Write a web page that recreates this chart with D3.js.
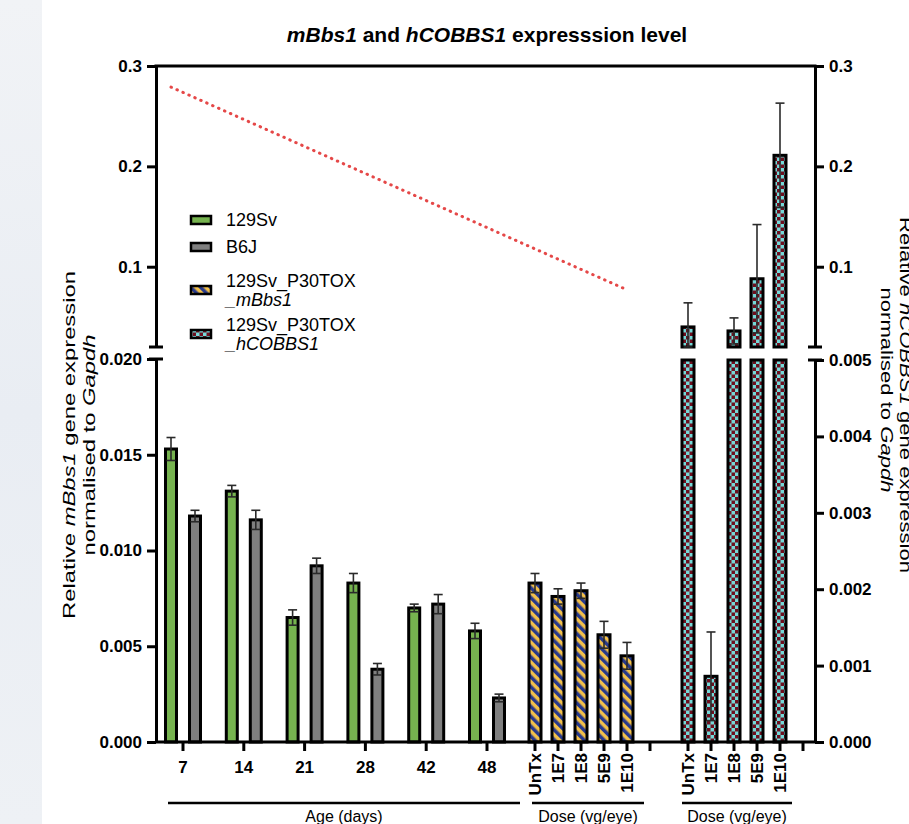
<!DOCTYPE html>
<html>
<head>
<meta charset="utf-8">
<script src="https://cdn.jsdelivr.net/npm/d3@7"></script>
<style>
  body { margin: 0; background: #fff; }
  svg { display: block; font-family: Arial, "Liberation Sans", sans-serif; }
</style>
</head>
<body>
<div id="chart"></div>
<script>
// data
const ages = ["7", "14", "21", "28", "42", "48"];
const sv129 = [0.0153, 0.0131, 0.0065, 0.0083, 0.0070, 0.0058];
const sv129Err = [0.0006, 0.0003, 0.0004, 0.0005, 0.0002, 0.0004];
const b6j = [0.0118, 0.0116, 0.0092, 0.0038, 0.0072, 0.0023];
const b6jErr = [0.0003, 0.0005, 0.0004, 0.0003, 0.0005, 0.0002];

const doses = ["UnTx", "1E7", "1E8", "5E9", "1E10"];
const toxMbbs1 = [0.0083, 0.0076, 0.0079, 0.0056, 0.0045];
const toxMbbs1Err = [0.0005, 0.0004, 0.0004, 0.0007, 0.0007];
const toxHcobbs1 = [0.040, 0.00086, 0.036, 0.088, 0.211];
const toxHcobbs1Err = [0.024, 0.00058, 0.013, 0.054, 0.052];

const leftLowTicks = [0, 0.005, 0.010, 0.015, 0.020];
const leftHighTicks = [0.1, 0.2, 0.3];
const rightLowTicks = [0, 0.001, 0.002, 0.003, 0.004, 0.005];
const rightHighTicks = [0.1, 0.2, 0.3];

// red dotted annotation line (start at 129Sv day 7, end at 1E10)
const trendStart = { cat: "7", v: 0.279 };
const trendEnd = { cat: "1E10", v: 0.077 };

const W = 909, H = 824;
const svg = d3.select("#chart").append("svg")
  .attr("width", W).attr("height", H);

// patterns
const defs = svg.append("defs");
const stripe = defs.append("pattern")
  .attr("id", "stripe").attr("patternUnits", "userSpaceOnUse")
  .attr("width", 7).attr("height", 7)
  .attr("patternTransform", "rotate(-45)");
stripe.append("rect").attr("width", 7).attr("height", 7).attr("fill", "#f2c04a");
stripe.append("rect").attr("width", 3.5).attr("height", 7).attr("fill", "#27398c");

const checker = defs.append("pattern")
  .attr("id", "checker").attr("patternUnits", "userSpaceOnUse")
  .attr("width", 7).attr("height", 7);
checker.append("rect").attr("width", 7).attr("height", 7).attr("fill", "#74d9d8");
checker.append("rect").attr("width", 3.5).attr("height", 3.5).attr("fill", "#6e0f1f");
checker.append("rect").attr("x", 3.5).attr("y", 3.5).attr("width", 3.5).attr("height", 3.5).attr("fill", "#6e0f1f");

const bgGrad = defs.append("linearGradient").attr("id", "bgGrad")
  .attr("x1", 0).attr("x2", 0).attr("y1", 0).attr("y2", 1);
bgGrad.append("stop").attr("offset", "0%").attr("stop-color", "#f1f3f6");
bgGrad.append("stop").attr("offset", "50%").attr("stop-color", "#e9edf3");
bgGrad.append("stop").attr("offset", "100%").attr("stop-color", "#eef1f5");

// faint background strip on the left edge
svg.append("rect").attr("x", 0).attr("y", 0).attr("width", 42).attr("height", H)
  .attr("fill", "url(#bgGrad)");

// scales
const xLeft = 156, xRight = 815;
const xAge = d3.scalePoint().domain(ages).range([183, 487]);
const xDoseM = d3.scalePoint().domain([...doses, "_"]).range([535, 650]);
const xDoseH = d3.scalePoint().domain([...doses, "_"]).range([688, 803]);

const yLow = d3.scaleLinear().domain([0, 0.02]).range([742, 359]);
const yHigh = d3.scaleLinear().domain([0.02, 0.3]).range([347, 66]);
const yRLow = d3.scaleLinear().domain([0, 0.005]).range([742, 360]);
const yRHigh = d3.scaleLinear().domain([0.02, 0.3]).range([347, 66]);

const barOff = 12;

// title
const title = svg.append("text")
  .attr("x", 487).attr("y", 42)
  .attr("text-anchor", "middle")
  .style("font-size", "21px").style("font-weight", "bold");
title.append("tspan").style("font-style", "italic").text("mBbs1");
title.append("tspan").text(" and ");
title.append("tspan").style("font-style", "italic").text("hCOBBS1");
title.append("tspan").text(" expresssion level");

// red dotted line
svg.append("line")
  .attr("x1", xAge(trendStart.cat) - barOff).attr("y1", yHigh(trendStart.v))
  .attr("x2", xDoseM(trendEnd.cat)).attr("y2", yHigh(trendEnd.v))
  .attr("stroke", "#e54848").attr("stroke-width", 3)
  .attr("stroke-dasharray", "0.5,6").attr("stroke-linecap", "round");

// helper: error bar
function errBar(g, x, yTop, yBot, cap) {
  g.append("line").attr("x1", x).attr("x2", x).attr("y1", yTop).attr("y2", yBot)
    .attr("stroke", "#2a2a2a").attr("stroke-width", 1.6);
  g.append("line").attr("x1", x - cap).attr("x2", x + cap).attr("y1", yTop).attr("y2", yTop)
    .attr("stroke", "#2a2a2a").attr("stroke-width", 1.6);
  g.append("line").attr("x1", x - cap).attr("x2", x + cap).attr("y1", yBot).attr("y2", yBot)
    .attr("stroke", "#2a2a2a").attr("stroke-width", 1.6);
}

// age bars
const gBars = svg.append("g");
const ageSeries = [
  { vals: sv129, errs: sv129Err, fill: "#76b34f", off: -barOff },
  { vals: b6j, errs: b6jErr, fill: "#7f7f7f", off: barOff }
];
ageSeries.forEach(s => {
  ages.forEach((a, i) => {
    const cx = xAge(a) + s.off;
    gBars.append("rect")
      .attr("x", cx - 5.5).attr("width", 11)
      .attr("y", yLow(s.vals[i])).attr("height", yLow(0) - yLow(s.vals[i]))
      .attr("fill", s.fill).attr("stroke", "#000").attr("stroke-width", 3);
    errBar(gBars, cx, yLow(s.vals[i] + s.errs[i]), yLow(s.vals[i] - s.errs[i]), 4.5);
  });
});

// mBbs1 dose bars
doses.forEach((d, i) => {
  const cx = xDoseM(d);
  gBars.append("rect")
    .attr("x", cx - 6).attr("width", 12)
    .attr("y", yLow(toxMbbs1[i])).attr("height", yLow(0) - yLow(toxMbbs1[i]))
    .attr("fill", "url(#stripe)").attr("stroke", "#000").attr("stroke-width", 3);
  errBar(gBars, cx, yLow(toxMbbs1[i] + toxMbbs1Err[i]), yLow(toxMbbs1[i] - toxMbbs1Err[i]), 4.5);
});

// hCOBBS1 dose bars (broken axis)
doses.forEach((d, i) => {
  const cx = xDoseH(d);
  const v = toxHcobbs1[i], e = toxHcobbs1Err[i];
  if (v <= 0.005) {
    gBars.append("rect")
      .attr("x", cx - 6).attr("width", 12)
      .attr("y", yRLow(v)).attr("height", yRLow(0) - yRLow(v))
      .attr("fill", "url(#checker)").attr("stroke", "#000").attr("stroke-width", 3);
    errBar(gBars, cx, yRLow(v + e), yRLow(Math.max(0, v - e)), 4.5);
  } else {
    gBars.append("rect")
      .attr("x", cx - 6).attr("width", 12)
      .attr("y", yRLow(0.005)).attr("height", yRLow(0) - yRLow(0.005))
      .attr("fill", "url(#checker)").attr("stroke", "#000").attr("stroke-width", 3);
    gBars.append("rect")
      .attr("x", cx - 6).attr("width", 12)
      .attr("y", yRHigh(v)).attr("height", yRHigh(0.02) - yRHigh(v))
      .attr("fill", "url(#checker)").attr("stroke", "#000").attr("stroke-width", 3);
    // open the ends at the axis break
    gBars.append("rect")
      .attr("x", cx - 9).attr("width", 18)
      .attr("y", yRHigh(0.02) + 2).attr("height", yRLow(0.005) - yRHigh(0.02) - 4)
      .attr("fill", "#fff");
    errBar(gBars, cx, yRHigh(v + e), yRHigh(Math.max(0.02, v - e)), 4.5);
  }
});

// axes
function styleAxis(g) {
  g.select(".domain").attr("stroke-width", 3);
  g.selectAll(".tick line").attr("stroke-width", 3);
  g.selectAll(".tick text")
    .style("font-size", "17px").style("font-weight", "bold")
    .style("font-family", "Arial, 'Liberation Sans', sans-serif").attr("fill", "#000");
}
const fmt3 = d3.format(".3f"), fmt1 = d3.format(".1f");

svg.append("g").attr("transform", `translate(${xLeft},0)`)
  .call(d3.axisLeft(yLow).tickValues(leftLowTicks).tickFormat(fmt3).tickSize(9).tickSizeOuter(0).tickPadding(5))
  .call(styleAxis);
svg.append("g").attr("transform", `translate(${xLeft},0)`)
  .call(d3.axisLeft(yHigh).tickValues(leftHighTicks).tickFormat(fmt1).tickSize(9).tickSizeOuter(0).tickPadding(5))
  .call(styleAxis);
svg.append("g").attr("transform", `translate(${xRight},0)`)
  .call(d3.axisRight(yRLow).tickValues(rightLowTicks).tickFormat(fmt3).tickSize(9).tickSizeOuter(0).tickPadding(5))
  .call(styleAxis);
svg.append("g").attr("transform", `translate(${xRight},0)`)
  .call(d3.axisRight(yRHigh).tickValues(rightHighTicks).tickFormat(fmt1).tickSize(9).tickSizeOuter(0).tickPadding(5))
  .call(styleAxis);

// break caps and top frame
const capG = svg.append("g").attr("stroke", "#000").attr("stroke-width", 3);
[[xLeft, yLow(0.02)], [xRight, yRLow(0.005)]].forEach(([x, yTopLow]) => {
  capG.append("line").attr("x1", x - 7).attr("x2", x + 7).attr("y1", yHigh(0.02)).attr("y2", yHigh(0.02));
  capG.append("line").attr("x1", x - 7).attr("x2", x + 7).attr("y1", yTopLow).attr("y2", yTopLow);
});
capG.append("line").attr("x1", xLeft - 1.5).attr("x2", xRight + 1.5)
  .attr("y1", yHigh(0.3)).attr("y2", yHigh(0.3));

// x axis
const xG = svg.append("g").attr("stroke", "#000").attr("stroke-width", 3);
xG.append("line").attr("x1", xLeft).attr("x2", xRight).attr("y1", yLow(0)).attr("y2", yLow(0));
const tickXs = [...ages.map(xAge), ...xDoseM.domain().map(xDoseM), ...xDoseH.domain().map(xDoseH)];
tickXs.forEach(x => {
  xG.append("line").attr("x1", x).attr("x2", x).attr("y1", yLow(0)).attr("y2", yLow(0) + 9);
});

const labG = svg.append("g").style("font-size", "17px").style("font-weight", "bold");
ages.forEach(a => {
  labG.append("text").attr("x", xAge(a)).attr("y", 773).attr("text-anchor", "middle").text(a);
});
[xDoseM, xDoseH].forEach(sc => {
  doses.forEach(d => {
    labG.append("text")
      .attr("transform", `translate(${sc(d)},753) rotate(-90)`)
      .attr("text-anchor", "end").attr("dy", "0.35em").text(d);
  });
});

// group lines
const groups = [
  { label: "Age (days)", x1: 168, x2: 520 },
  { label: "Dose (vg/eye)", x1: 532, x2: 644 },
  { label: "Dose (vg/eye)", x1: 682, x2: 792 }
];
groups.forEach(g => {
  svg.append("line").attr("x1", g.x1).attr("x2", g.x2).attr("y1", 803).attr("y2", 803)
    .attr("stroke", "#000").attr("stroke-width", 2.5);
  svg.append("text").attr("x", (g.x1 + g.x2) / 2).attr("y", 822)
    .attr("text-anchor", "middle").style("font-size", "16px").text(g.label);
});

// y axis titles (stretched along the text, as in the figure)
function axisTitle(tf, parts) {
  const t = svg.append("text").attr("transform", tf)
    .attr("text-anchor", "middle").style("font-size", "17px");
  parts.forEach(p => t.append("tspan").style("font-style", p[1] ? "italic" : "normal").text(p[0]));
}
axisTitle("translate(75,445) rotate(-90) scale(1.4,1)",
  [["Relative ", false], ["mBbs1", true], [" gene expression", false]]);
axisTitle("translate(95,445) rotate(-90) scale(1.4,1)",
  [["normalised to ", false], ["Gapdh", true]]);
axisTitle("translate(900,395) rotate(90) scale(1.3,1)",
  [["Relative ", false], ["hCOBBS1", true], [" gene expression", false]]);
axisTitle("translate(881,390) rotate(90) scale(1.3,1)",
  [["normalised to ", false], ["Gapdh", true]]);

// legend
const legendItems = [
  { fill: "#76b34f", lines: [["129Sv", false]] },
  { fill: "#7f7f7f", lines: [["B6J", false]] },
  { fill: "url(#stripe)", lines: [["129Sv_P30TOX", false], ["_mBbs1", true]] },
  { fill: "url(#checker)", lines: [["129Sv_P30TOX", false], ["_hCOBBS1", true]] }
];
const legendY = [220, 247, 290, 334];
const leg = svg.append("g");
legendItems.forEach((it, i) => {
  const y = legendY[i];
  leg.append("rect").attr("x", 191).attr("y", y - 4).attr("width", 20).attr("height", 8)
    .attr("fill", it.fill).attr("stroke", "#000").attr("stroke-width", 2.5);
  const n = it.lines.length;
  it.lines.forEach((ln, j) => {
    leg.append("text").attr("x", 226).attr("y", y + 6 + (j - (n - 1) / 2) * 19)
      .style("font-size", "18px").style("font-style", ln[1] ? "italic" : "normal")
      .text(ln[0]);
  });
});
</script>
</body>
</html>
